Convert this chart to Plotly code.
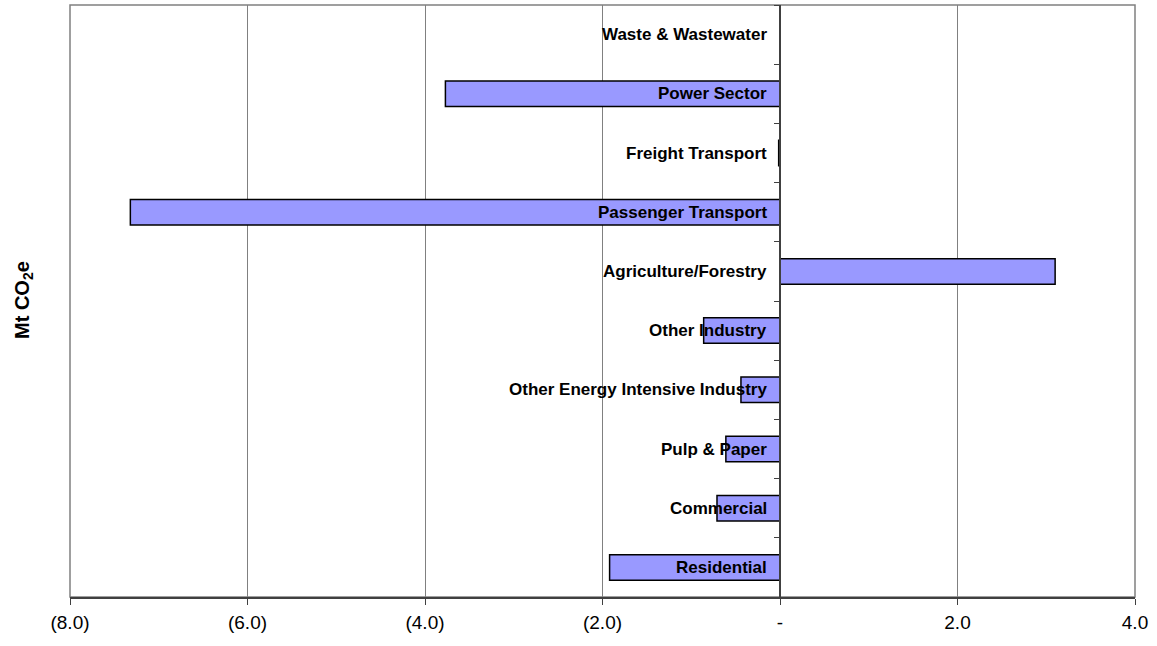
import plotly.graph_objects as go

# Sector categories, bottom to top
sectors = [
    "Residential",
    "Commercial",
    "Pulp & Paper",
    "Other Energy Intensive Industry",
    "Other Industry",
    "Agriculture/Forestry",
    "Passenger Transport",
    "Freight Transport",
    "Power Sector",
    "Waste & Wastewater",
]
# Emission change by sector (Mt CO2e)
values = [-1.92, -0.71, -0.61, -0.44, -0.86, 3.10, -7.32, -0.015, -3.77, 0.0]

x_tick_vals = [-8, -6, -4, -2, 0, 2, 4]
x_tick_text = ["(8.0)", "(6.0)", "(4.0)", "(2.0)", "-", "2.0", "4.0"]

positions = list(range(len(sectors)))
FONT = "Liberation Sans, Arial, sans-serif"

fig = go.Figure()
fig.add_trace(
    go.Bar(
        x=values,
        y=positions,
        orientation="h",
        width=0.43,
        marker=dict(color="#9999FF", line=dict(color="#000000", width=1.5)),
        hoverinfo="x+text",
        hovertext=sectors,
    )
)

# Sector labels sit just left of the zero axis
annotations = [
    dict(
        x=0,
        y=p,
        xref="x",
        yref="y",
        text=f"<b>{name}</b>",
        showarrow=False,
        xanchor="right",
        yanchor="middle",
        xshift=-11,
        font=dict(family=FONT, size=17, color="#000000"),
    )
    for p, name in zip(positions, sectors)
]
annotations.append(
    dict(
        x=0,
        y=0.5,
        xref="paper",
        yref="paper",
        text="<b>Mt CO<sub>2</sub>e</b>",
        showarrow=False,
        textangle=-90,
        xanchor="center",
        yanchor="middle",
        xshift=-47,
        yshift=1,
        font=dict(family=FONT, size=20, color="#000000"),
    )
)

fig.update_layout(
    width=1157,
    height=646,
    margin=dict(l=70, r=22, t=5, b=49),
    plot_bgcolor="#FFFFFF",
    paper_bgcolor="#FFFFFF",
    showlegend=False,
    font=dict(family=FONT, color="#000000"),
    annotations=annotations,
    shapes=[
        dict(
            type="rect",
            xref="paper",
            yref="paper",
            x0=0,
            y0=0,
            x1=1,
            y1=1,
            line=dict(color="#808080", width=1.5),
            layer="below",
        )
    ],
    xaxis=dict(
        range=[-8, 4],
        tickvals=x_tick_vals,
        ticktext=x_tick_text,
        showgrid=True,
        gridcolor="#808080",
        gridwidth=1,
        zeroline=False,
        showline=True,
        linecolor="#404040",
        linewidth=1.5,
        ticks="outside",
        ticklen=6,
        tickcolor="#404040",
        ticklabelstandoff=1,
        tickfont=dict(family=FONT, size=19, color="#000000"),
        fixedrange=True,
    ),
    yaxis=dict(
        range=[-0.5, len(sectors) - 0.5],
        tickvals=[i - 0.5 for i in range(len(sectors) + 1)],
        showticklabels=False,
        showgrid=False,
        zeroline=False,
        anchor="free",
        position=8 / 12,
        showline=True,
        linecolor="#404040",
        linewidth=1.5,
        ticks="outside",
        ticklen=5,
        tickcolor="#404040",
        fixedrange=True,
    ),
)

fig.write_html("out.html")
